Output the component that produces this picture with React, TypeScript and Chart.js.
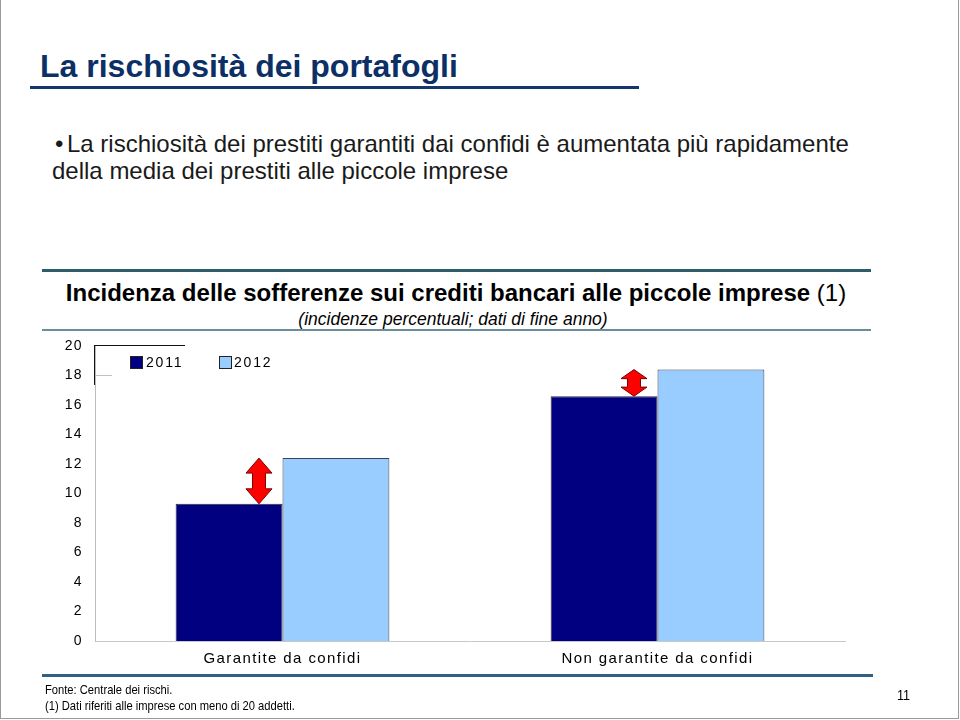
import React, { useEffect, useRef } from 'react';
import { Chart, registerables } from 'chart.js';

Chart.register(...registerables);

const categories = ['Garantite da confidi', 'Non garantite da confidi'];
const seriesNames = ['2011', '2012'];
const values2011 = [9.3, 16.6];
const values2012 = [12.4, 18.4];
const yMin = 0;
const yMax = 20;
const yStep = 2;
const seriesColors = ['#000080', '#99CCFF'];

const FONT = '"Liberation Sans", Arial, Helvetica, sans-serif';

function drawDoubleArrow(ctx: CanvasRenderingContext2D, cx: number, top: number, bottom: number) {
  const h = bottom - top;
  const head = Math.min(15, h * 0.34);
  const hw = 13;
  const sw = 6.5;
  ctx.save();
  ctx.beginPath();
  ctx.moveTo(cx, top);
  ctx.lineTo(cx + hw, top + head);
  ctx.lineTo(cx + sw, top + head);
  ctx.lineTo(cx + sw, bottom - head);
  ctx.lineTo(cx + hw, bottom - head);
  ctx.lineTo(cx, bottom);
  ctx.lineTo(cx - hw, bottom - head);
  ctx.lineTo(cx - sw, bottom - head);
  ctx.lineTo(cx - sw, top + head);
  ctx.lineTo(cx - hw, top + head);
  ctx.closePath();
  ctx.fillStyle = '#ff0000';
  ctx.fill();
  ctx.strokeStyle = '#7a0000';
  ctx.lineWidth = 1;
  ctx.stroke();
  ctx.restore();
}

const arrowPlugin = {
  id: 'diffArrows',
  afterDatasetsDraw(chart: any) {
    const m0 = chart.getDatasetMeta(0);
    const m1 = chart.getDatasetMeta(1);
    const ctx = chart.ctx;
    m0.data.forEach((bar: any, i: number) => {
      const p0 = bar.getProps(['x', 'y', 'width'], true);
      const p1 = m1.data[i].getProps(['y'], true);
      const cx = p0.x + p0.width * 0.28;
      drawDoubleArrow(ctx, cx, p1.y, p0.y);
    });
  },
};

const spacingPlugin = {
  id: 'letterSpacing',
  beforeDraw(chart: any) {
    chart.ctx.letterSpacing = '1.4px';
  },
  afterDraw(chart: any) {
    chart.ctx.letterSpacing = '0px';
  },
};

function ChartCanvas() {
  const ref = useRef<HTMLCanvasElement | null>(null);
  useEffect(() => {
    if (!ref.current) return;
    const chart = new Chart(ref.current, {
      type: 'bar',
      data: {
        labels: categories,
        datasets: [
          {
            label: seriesNames[0],
            data: values2011,
            backgroundColor: seriesColors[0],
            borderColor: '#2b2b3b',
            borderWidth: 1,
            categoryPercentage: 0.57,
            barPercentage: 1,
          },
          {
            label: seriesNames[1],
            data: values2012,
            backgroundColor: seriesColors[1],
            borderColor: '#34445a',
            borderWidth: 1,
            categoryPercentage: 0.57,
            barPercentage: 1,
          },
        ],
      },
      options: {
        responsive: false,
        animation: false,
        events: [],
        layout: { padding: { left: 40, right: 115, top: 346, bottom: 49 } },
        font: { family: FONT },
        plugins: {
          legend: { display: false },
          tooltip: { enabled: false },
          title: { display: false },
        },
        scales: {
          x: {
            grid: { display: false, drawTicks: false },
            border: { display: true, color: '#c8c8c8', width: 1 },
            ticks: { color: '#000', font: { family: FONT, size: 15 }, padding: 9, maxRotation: 0 },
            afterFit(s: any) {
              s.height = 30;
            },
          },
          y: {
            min: yMin,
            max: yMax,
            grid: { display: false, drawTicks: false },
            border: { display: true, color: '#bcbcbc', width: 1 },
            ticks: { stepSize: yStep, color: '#000', font: { family: FONT, size: 14 }, padding: 12 },
            afterFit(s: any) {
              s.width = 55;
            },
          },
        },
      } as any,
      plugins: [spacingPlugin, arrowPlugin],
    });
    return () => chart.destroy();
  }, []);
  return (
    <canvas
      ref={ref}
      width={960}
      height={720}
      style={{ position: 'absolute', left: 0, top: 0, width: 960, height: 720 }}
    />
  );
}

const abs = (o: React.CSSProperties): React.CSSProperties => ({ position: 'absolute', whiteSpace: 'nowrap', lineHeight: 1, ...o });

export default function App() {
  return (
    <div
      style={{
        position: 'absolute',
        left: 0,
        top: 0,
        width: 960,
        height: 720,
        background: '#fff',
        fontFamily: FONT,
        overflow: 'hidden',
      }}
    >
      {/* slide border */}
      <div style={abs({ left: 0, top: 0, width: 1, height: 719, background: '#9a9a9a' })} />
      <div style={abs({ left: 958, top: 0, width: 1, height: 719, background: '#9a9a9a' })} />
      <div style={abs({ left: 0, top: 718, width: 959, height: 1, background: '#9a9a9a' })} />

      {/* title */}
      <div style={abs({ left: 40, top: 50, fontSize: 32, fontWeight: 'bold', color: '#0c2f66' })}>
        La rischiosità dei portafogli
      </div>
      <div style={abs({ left: 30, top: 86, width: 609, height: 3, background: '#15386b' })} />

      {/* bullet */}
      <div style={abs({ left: 55, top: 132, fontSize: 24, color: '#1a1a1a' })}>•</div>
      <div style={abs({ left: 67, top: 132, fontSize: 24, color: '#1a1a1a' })}>
        La rischiosità dei prestiti garantiti dai confidi è aumentata più rapidamente
      </div>
      <div style={abs({ left: 52, top: 159, fontSize: 24, color: '#1a1a1a' })}>
        della media dei prestiti alle piccole imprese
      </div>

      {/* chart frame */}
      <div style={abs({ left: 42, top: 269, width: 829, height: 3, background: '#2d5c6b' })} />
      <div style={abs({ left: 0, top: 281, width: 912, textAlign: 'center', fontSize: 24, color: '#000' })}>
        <span style={{ fontWeight: 'bold' }}>Incidenza delle sofferenze sui crediti bancari alle piccole imprese</span>{' '}
        <span>(1)</span>
      </div>
      <div style={abs({ left: 0, top: 311, width: 906, textAlign: 'center', fontSize: 17.5, fontStyle: 'italic', color: '#000' })}>
        (incidenze percentuali; dati di fine anno)
      </div>
      <div style={abs({ left: 42, top: 329, width: 829, height: 2, background: '#6b8c99' })} />

      <ChartCanvas />

      {/* legend (with its partial frame) */}
      <div style={abs({ left: 94, top: 345, width: 91, height: 1, background: '#111' })} />
      <div style={abs({ left: 94, top: 345, width: 1, height: 40, background: '#111' })} />
      <div style={abs({ left: 95, top: 375, width: 17, height: 1, background: '#c0c0c0' })} />
      <div style={abs({ left: 130, top: 356, width: 11, height: 11, background: seriesColors[0], border: '1px solid #222' })} />
      <div style={abs({ left: 146, top: 355, fontSize: 14, letterSpacing: '1.8px', color: '#000' })}>{seriesNames[0]}</div>
      <div style={abs({ left: 219, top: 356, width: 11, height: 11, background: seriesColors[1], border: '1px solid #222' })} />
      <div style={abs({ left: 234, top: 355, fontSize: 14, letterSpacing: '1.8px', color: '#000' })}>{seriesNames[1]}</div>

      {/* footer */}
      <div style={abs({ left: 42, top: 674, width: 831, height: 3, background: '#2e6185' })} />
      <div style={abs({ left: 45, top: 683, fontSize: 13, color: '#000', transform: 'scaleX(0.86)', transformOrigin: 'left top' })}>
        Fonte: Centrale dei rischi.
      </div>
      <div style={abs({ left: 45, top: 699, fontSize: 13, color: '#000', transform: 'scaleX(0.86)', transformOrigin: 'left top' })}>
        (1) Dati riferiti alle imprese con meno di 20 addetti.
      </div>
      <div style={abs({ left: 897, top: 688, fontSize: 14, color: '#000', transform: 'scaleX(0.9)', transformOrigin: 'left top' })}>
        11
      </div>
    </div>
  );
}
